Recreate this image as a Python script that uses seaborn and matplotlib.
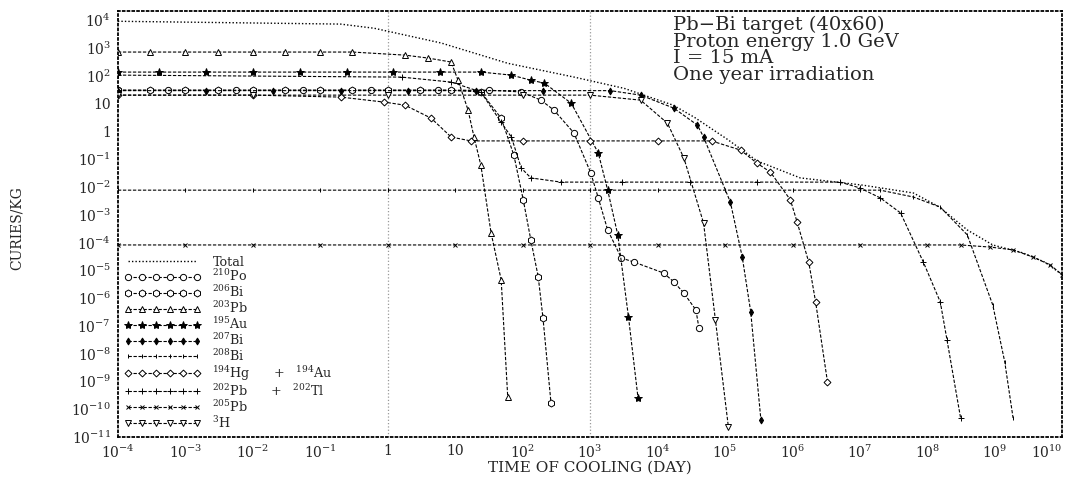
import matplotlib
matplotlib.use('Agg')
import matplotlib.pyplot as plt
import seaborn as sns

# decay curves: cooling time (days) and activity (Ci/kg)
total_days = [1e-4, 0.2, 0.63, 6.2, 60, 580, 3200, 1.7e4, 3.5e4, 1.1e5, 3.0e5, 1.3e6,
              1.1e7, 6.2e7, 1.5e8, 3.9e8, 9.3e8, 2.6e9, 5.5e9, 1e10]
total_ci = [9100, 7200, 5100, 1500, 280, 89, 35, 8.7, 3.2, 0.5, 0.085, 0.021,
            0.0115, 0.006, 0.0019, 2.8e-4, 8.1e-5, 4.2e-5, 1.95e-5, 6.8e-6]

po210_days = [1e-4, 5.6e-4, 5.6e-3, 5.6e-2, 0.56, 5.6, 32, 95, 186, 290, 575, 1020,
              1320, 1820, 2900, 4500, 1.23e4, 1.74e4, 2.45e4, 3.7e4, 4.1e4]
po210_ci = [30, 30, 30, 30, 30, 30, 30, 26, 13.2, 5.8, 0.87, 0.032,
            4.0e-3, 2.8e-4, 2.75e-5, 1.95e-5, 7.9e-6, 3.8e-6, 1.5e-6, 3.7e-7, 8.3e-8]

bi206_days = [1e-4, 3e-4, 1e-3, 3e-3, 1e-2, 3e-2, 0.1, 0.3, 1, 3, 8.7, 24, 48, 74,
              102, 132, 170, 200, 263]
bi206_ci = [30, 30, 30, 30, 30, 30, 30, 30, 30, 30, 30, 26, 2.95, 0.138,
            3.4e-3, 1.23e-4, 5.8e-6, 1.9e-7, 1.66e-10]

pb203_days = [1e-4, 3e-4, 1e-3, 3e-3, 1e-2, 3e-2, 0.1, 0.3, 1.8, 4.0, 8.7, 11, 15.5,
              19, 24, 34, 48, 60]
pb203_ci = [710, 710, 710, 710, 710, 710, 710, 710, 550, 430, 310, 69, 5.8,
            0.62, 0.060, 2.2e-4, 4.5e-6, 2.8e-10]

au195_days = [1e-4, 4e-4, 2e-3, 1e-2, 5e-2, 0.25, 1.2, 6, 24, 68, 132, 210, 525,
              1320, 1820, 2570, 3700, 5130]
au195_ci = [135, 135, 135, 135, 135, 135, 135, 135, 135, 105, 69, 54, 10.2,
            0.166, 7.6e-3, 1.86e-4, 2.1e-7, 2.5e-10]

bi207_days = [1e-4, 2e-3, 2e-2, 0.2, 2, 20, 200, 2000, 5600, 1.74e4, 3.9e4, 4.8e4,
              1.2e5, 1.8e5, 2.4e5, 3.4e5]
bi207_ci = [29, 29, 29, 29, 29, 29, 29, 29, 20, 6.8, 1.66, 0.62,
            2.8e-3, 2.95e-5, 3.2e-7, 4.1e-11]

bi208_days = [1e-4, 1e-3, 1e-2, 0.1, 1, 10, 100, 1e3, 1e4, 1e5, 1e6, 1e7, 2e7,
              6.2e7, 1.55e8, 3.9e8, 9.3e8, 1.4e9, 1.86e9]
bi208_ci = [7.6e-3, 7.6e-3, 7.6e-3, 7.6e-3, 7.6e-3, 7.6e-3, 7.6e-3, 7.6e-3, 7.6e-3,
            7.6e-3, 7.6e-3, 7.6e-3, 7.6e-3, 4.3e-3, 1.86e-3, 1.86e-4, 5.6e-7, 5.0e-9, 4.8e-11]

hg194_days = [1e-4, 1e-2, 0.2, 0.89, 1.8, 4.4, 8.7, 17, 100, 1e3, 1e4, 6.3e4, 1.7e5,
              3.0e5, 4.7e5, 9.3e5, 1.17e6, 1.74e6, 2.2e6, 3.3e6]
hg194_ci = [20, 20, 17, 11.2, 8.7, 2.95, 0.62, 0.45, 0.45, 0.45, 0.45, 0.45, 0.21,
            0.07, 0.034, 3.4e-3, 5.4e-4, 1.95e-5, 7.2e-7, 9.5e-10]

pb202_days = [1e-4, 1.6, 8.7, 24, 48, 68, 95, 132, 370, 3e3, 3e4, 3e5, 5.1e6, 1.0e7,
              2.0e7, 4.0e7, 8.7e7, 1.55e8, 1.95e8, 3.1e8]
pb202_ci = [105, 89, 59, 26, 2.1, 0.62, 0.048, 0.021, 0.0148, 0.0148, 0.0148, 0.0148,
            0.0148, 9.1e-3, 4.0e-3, 1.15e-3, 1.95e-5, 7.2e-7, 3.1e-8, 4.8e-11]

pb205_days = [1e-4, 1e-3, 1e-2, 0.1, 1, 10, 100, 1e3, 1e4, 1e5, 1e6, 1e7, 1e8, 3.1e8,
              8.5e8, 1.86e9, 3.7e9, 6.6e9, 1e10]
pb205_ci = [8.1e-5, 8.1e-5, 8.1e-5, 8.1e-5, 8.1e-5, 8.1e-5, 8.1e-5, 8.1e-5, 8.1e-5,
            8.1e-5, 8.1e-5, 8.1e-5, 8.1e-5, 8.1e-5, 6.8e-5, 5.4e-5, 2.95e-5, 1.55e-5, 6.8e-6]

h3_days = [1e-4, 1e-2, 1, 100, 1000, 5600, 1.4e4, 2.45e4, 4.8e4, 7.2e4, 1.12e5]
h3_ci = [20, 20, 20, 20, 20, 13.2, 1.95, 0.11, 5.0e-4, 1.6e-7, 2.3e-11]

labels = ['Total', r'$^{210}$Po', r'$^{206}$Bi', r'$^{203}$Pb', r'$^{195}$Au',
          r'$^{207}$Bi', r'$^{208}$Bi', r'$^{194}$Hg', r'$^{202}$Pb', r'$^{205}$Pb',
          r'$^{3}$H']
extra_labels = {7: r'+   $^{194}$Au', 8: r'+   $^{202}$Tl'}

x_ticks = [1e-4, 1e-3, 1e-2, 1e-1, 1, 10, 1e2, 1e3, 1e4, 1e5, 1e6, 1e7, 1e8, 1e9, 1e10]
x_tick_labels = [r'$10^{-4}$', r'$10^{-3}$', r'$10^{-2}$', r'$10^{-1}$', '1', '10',
                 r'$10^{2}$', r'$10^{3}$', r'$10^{4}$', r'$10^{5}$', r'$10^{6}$',
                 r'$10^{7}$', r'$10^{8}$', r'$10^{9}$', r'$10^{10}$']
y_ticks = [1e-11, 1e-10, 1e-9, 1e-8, 1e-7, 1e-6, 1e-5, 1e-4, 1e-3, 1e-2, 1e-1, 1, 10,
           1e2, 1e3, 1e4]
y_tick_labels = [r'$10^{-11}$', r'$10^{-10}$', r'$10^{-9}$', r'$10^{-8}$', r'$10^{-7}$',
                 r'$10^{-6}$', r'$10^{-5}$', r'$10^{-4}$', r'$10^{-3}$', r'$10^{-2}$',
                 r'$10^{-1}$', '1', '10', r'$10^{2}$', r'$10^{3}$', r'$10^{4}$']
grid_days = [1, 1e3]

series = [
    (total_days, total_ci),
    (po210_days, po210_ci),
    (bi206_days, bi206_ci),
    (pb203_days, pb203_ci),
    (au195_days, au195_ci),
    (bi207_days, bi207_ci),
    (bi208_days, bi208_ci),
    (hg194_days, hg194_ci),
    (pb202_days, pb202_ci),
    (pb205_days, pb205_ci),
    (h3_days, h3_ci),
]

dash = (0, (3, 1.5))
styles = [
    dict(linestyle=(0, (1, 1.5)), linewidth=1.0),
    dict(linestyle=dash, marker='o', markersize=4.5, markerfacecolor='white'),
    dict(linestyle=dash, marker='h', markersize=5, markerfacecolor='white'),
    dict(linestyle=dash, marker='^', markersize=4.5, markerfacecolor='white'),
    dict(linestyle=dash, marker='*', markersize=6, markerfacecolor='black'),
    dict(linestyle=dash, marker='d', markersize=3.5, markerfacecolor='black'),
    dict(linestyle=dash, marker='|', markersize=3.5),
    dict(linestyle=dash, marker='D', markersize=3.5, markerfacecolor='white'),
    dict(linestyle=dash, marker='+', markersize=5),
    dict(linestyle=dash, marker='x', markersize=3),
    dict(linestyle=dash, marker='v', markersize=4.5, markerfacecolor='white'),
]

sns.set_style('white')
plt.rcParams['font.family'] = ['DejaVu Serif']
plt.rcParams['mathtext.fontset'] = 'dejavuserif'

fig = plt.figure(figsize=(10.72, 4.86), dpi=100)
ax = fig.add_axes([0.110, 0.101, 0.881, 0.876])
ax.set_xscale('log')
ax.set_yscale('log')

for g in grid_days:
    ax.axvline(g, color='0.6', linestyle=':', linewidth=0.9, zorder=0)

for (days, ci), label, st in zip(series, labels, styles):
    kw = dict(linewidth=0.8, markeredgecolor='black', markeredgewidth=0.7)
    kw.update(st)
    sns.lineplot(x=days, y=ci, ax=ax, color='black', label=label,
                 estimator=None, sort=False, **kw)

ax.set_xlim(1e-4, 1e10)
ax.set_ylim(1e-11, 2.1e4)
ax.set_xticks(x_ticks)
ax.set_xticklabels(x_tick_labels)
ax.set_yticks(y_ticks)
ax.set_yticklabels(y_tick_labels)
ax.tick_params(which='major', direction='in', length=5, labelsize=10, pad=5)
ax.tick_params(which='minor', direction='in', length=2.5)
ax.get_xticklabels()[-1].set_horizontalalignment('right')
for sp in ax.spines.values():
    sp.set_linestyle(':')
    sp.set_linewidth(1.3)
    sp.set_color('black')

ax.set_ylabel('CURIES/KG', fontsize=10)
ax.yaxis.set_label_coords(-0.1, 0.49)
ax.set_xlabel('TIME OF COOLING (DAY)', fontsize=11)
ax.xaxis.set_label_coords(0.5, -0.056)

ax.text(0.588, 0.99, 'Pb\u2212Bi target (40x60)\nProton energy 1.0 GeV\nI = 15 mA\nOne year irradiation',
        transform=ax.transAxes, ha='left', va='top', fontsize=14, linespacing=0.92)

handles, labs = ax.get_legend_handles_labels()
leg = ax.legend(handles, labs, loc='lower left', frameon=False, fontsize=9.2,
                handlelength=6, handletextpad=0.9, labelspacing=0.0, numpoints=6,
                borderaxespad=0.2, borderpad=0.3)

fig.canvas.draw()
for idx, txt in extra_labels.items():
    bb = leg.get_texts()[idx].get_window_extent()
    xa, ya = ax.transAxes.inverted().transform((bb.x1 + 22, (bb.y0 + bb.y1) / 2))
    ax.text(xa, ya, txt, transform=ax.transAxes, ha='left', va='center', fontsize=9.2)

plt.savefig('out.png', dpi=100)
plt.close()
